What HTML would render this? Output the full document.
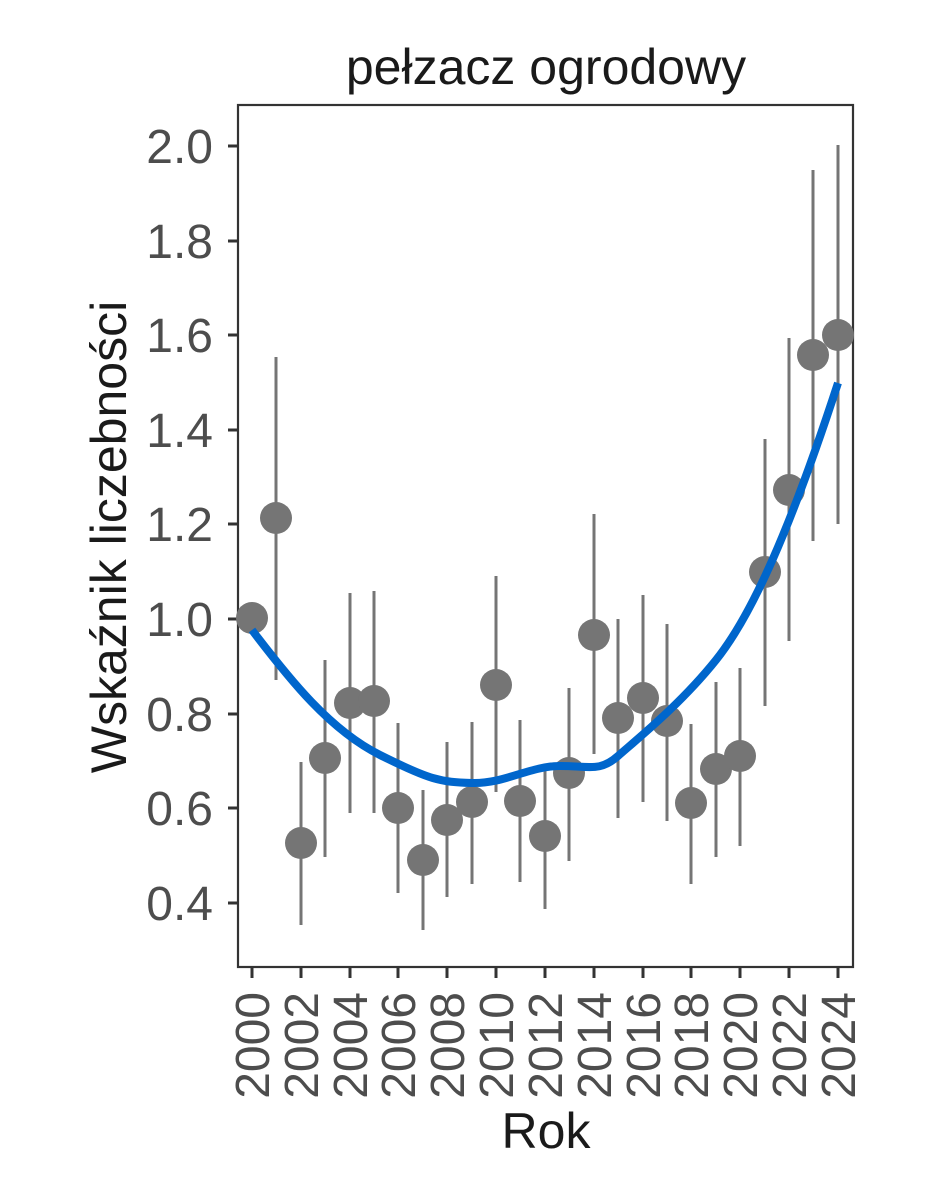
<!DOCTYPE html>
<html><head><meta charset="utf-8"><style>body{margin:0;background:#fff}svg{display:block}</style></head><body>
<svg width="944" height="1181" xmlns="http://www.w3.org/2000/svg" font-family="Liberation Sans, sans-serif">
<rect width="944" height="1181" fill="#fff"/>
<text x="546" y="84" font-size="50" text-anchor="middle" fill="#1a1a1a">pełzacz ogrodowy</text>
<g stroke="#333" stroke-width="2.2">
<rect x="238" y="105" width="615" height="862" fill="none"/>
</g>
<g font-size="48" fill="#4d4d4d" text-anchor="end">
<text x="213" y="163">2.0</text><text x="213" y="258">1.8</text><text x="213" y="352">1.6</text><text x="213" y="447">1.4</text><text x="213" y="541">1.2</text><text x="213" y="636">1.0</text><text x="213" y="731">0.8</text><text x="213" y="825">0.6</text><text x="213" y="920">0.4</text>
</g>
<g stroke="#333" stroke-width="3">
<path d="M228 146h10M228 241h10M228 335h10M228 430h10M228 524h10M228 619h10M228 714h10M228 808h10M228 903h10"/>
<path d="M252 968v10M301 968v10M350 968v10M398 968v10M447 968v10M496 968v10M545 968v10M594 968v10M643 968v10M691 968v10M740 968v10M789 968v10M838 968v10"/>
</g>
<g font-size="48" fill="#4d4d4d" text-anchor="end">
<text transform="translate(269,992) rotate(-90)">2000</text><text transform="translate(318,992) rotate(-90)">2002</text><text transform="translate(367,992) rotate(-90)">2004</text><text transform="translate(415,992) rotate(-90)">2006</text><text transform="translate(464,992) rotate(-90)">2008</text><text transform="translate(513,992) rotate(-90)">2010</text><text transform="translate(562,992) rotate(-90)">2012</text><text transform="translate(611,992) rotate(-90)">2014</text><text transform="translate(660,992) rotate(-90)">2016</text><text transform="translate(708,992) rotate(-90)">2018</text><text transform="translate(757,992) rotate(-90)">2020</text><text transform="translate(806,992) rotate(-90)">2022</text><text transform="translate(855,992) rotate(-90)">2024</text>
</g>
<text x="546" y="1148" font-size="50" text-anchor="middle" fill="#1a1a1a">Rok</text>
<text transform="translate(126,537) rotate(-90)" font-size="50" text-anchor="middle" fill="#1a1a1a">Wskaźnik liczebności</text>
<g stroke="#757575" stroke-width="3">
<path d="M276 357V680M301 762V925M325 660V857M350 593V813M374 591V813M398 723V893M423 790V930M447 742V897M472 722V884M496 576V792M520 720V882M545 768V909M569 688V861M594 514V754M618 619V818M643 595V802M667 624V821M691 724V884M716 682V857M740 668V846M765 439V706M789 338V641M813 170V541M838 145V524"/>
</g>
<g fill="#757575">
<circle cx="252" cy="618" r="16"/><circle cx="276" cy="518" r="16"/><circle cx="301" cy="843" r="16"/><circle cx="325" cy="758" r="16"/><circle cx="350" cy="703" r="16"/><circle cx="374" cy="701" r="16"/><circle cx="398" cy="808" r="16"/><circle cx="423" cy="860" r="16"/><circle cx="447" cy="820" r="16"/><circle cx="472" cy="802" r="16"/><circle cx="496" cy="685" r="16"/><circle cx="520" cy="801" r="16"/><circle cx="545" cy="836" r="16"/><circle cx="569" cy="773" r="16"/><circle cx="594" cy="635" r="16"/><circle cx="618" cy="718" r="16"/><circle cx="643" cy="698" r="16"/><circle cx="667" cy="721" r="16"/><circle cx="691" cy="803" r="16"/><circle cx="716" cy="769" r="16"/><circle cx="740" cy="756" r="16"/><circle cx="765" cy="572" r="16"/><circle cx="789" cy="490" r="16"/><circle cx="813" cy="355" r="16"/><circle cx="838" cy="335" r="16"/>
</g>
<path d="M252 630 C290 680 330 730 380 755 S440 782 472 783 S530 766 560 766 S600 772 618 756 S680 705 716 660 S790 530 838 383" fill="none" stroke="#0066cc" stroke-width="8"/>
</svg>
</body></html>
